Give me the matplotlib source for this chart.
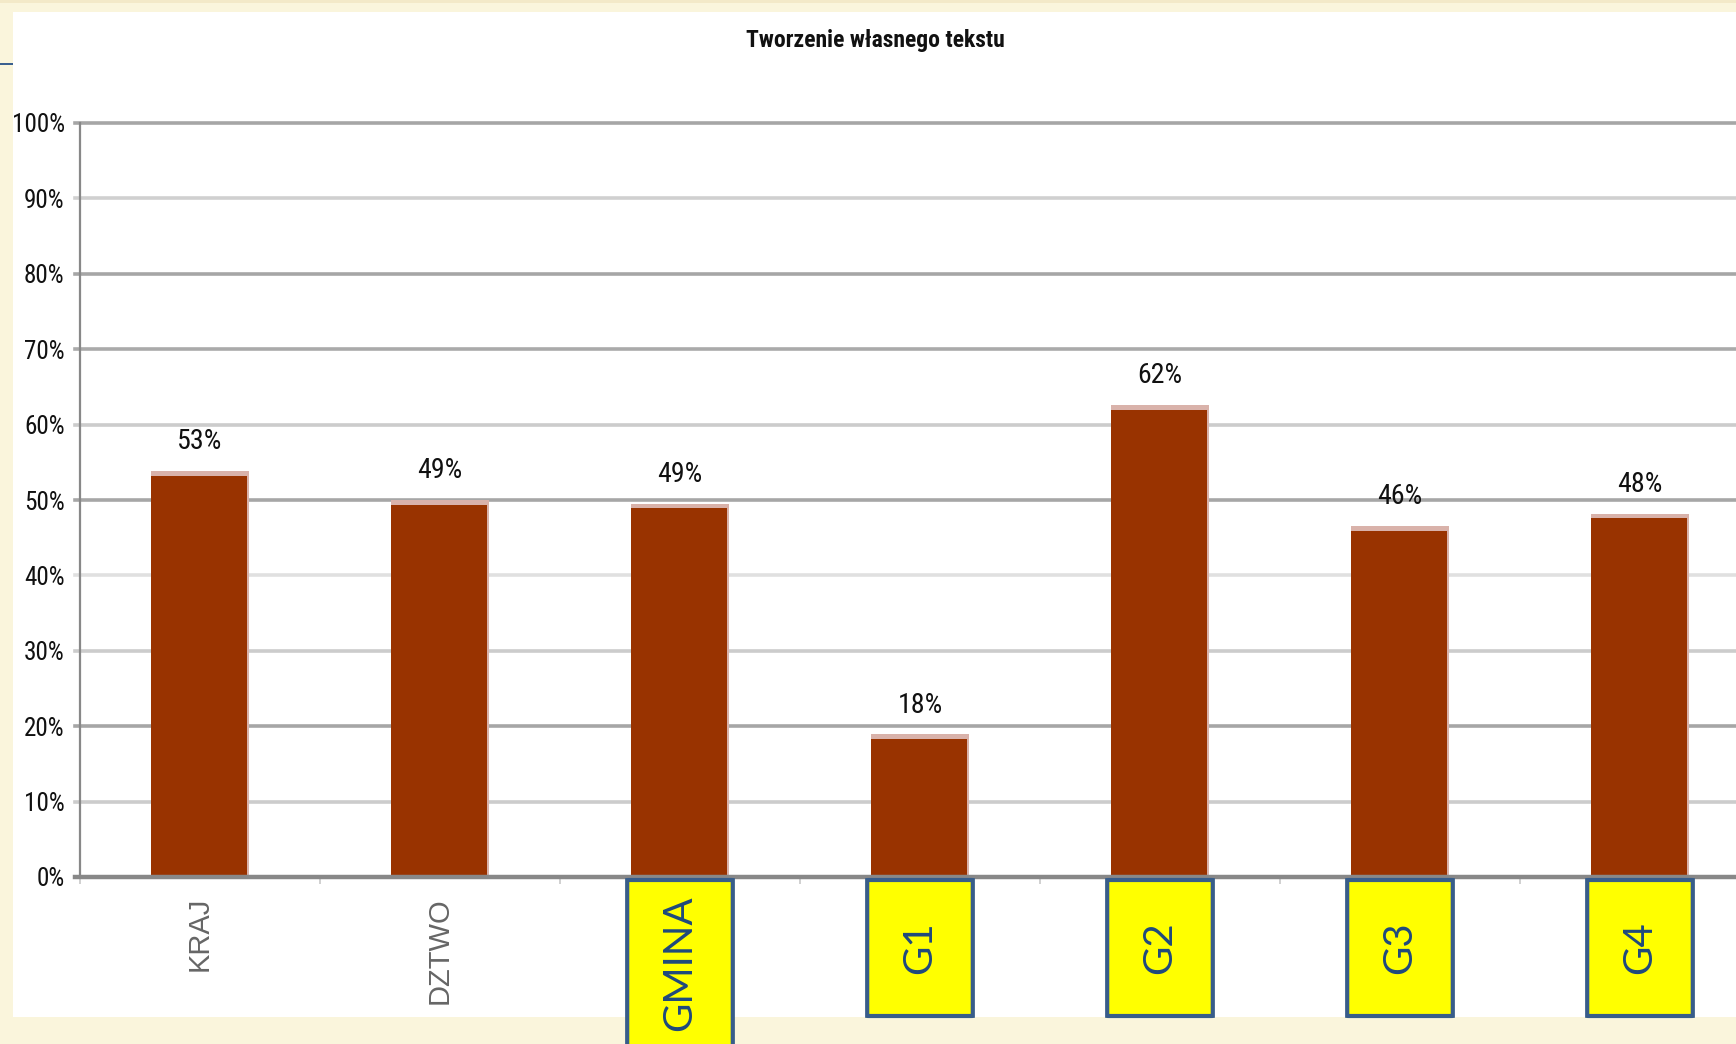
import os
import matplotlib
matplotlib.use("Agg")
import matplotlib.pyplot as plt
from matplotlib import font_manager
from matplotlib.font_manager import FontProperties
from matplotlib.textpath import TextPath
from matplotlib.patches import Rectangle, FancyBboxPatch

# ---- data ----
title = "Tworzenie własnego tekstu"
categories = ["KRAJ", "DZTWO", "GMINA", "G1", "G2", "G3", "G4"]
values = [53.2, 49.4, 48.9, 18.3, 62.0, 45.9, 47.6]
boxed = [False, False, True, True, True, True, True]
y_ticks = [0, 10, 20, 30, 40, 50, 60, 70, 80, 90, 100]
y_tick_labels = [f"{v}%" for v in y_ticks]

# ---- fonts: look for a narrow / condensed sans ----
files = [f.fname for f in font_manager.fontManager.ttflist]


def find_narrow(bold=False):
    prefixes = ["notosans-extracondensed", "liberationsansnarrow", "robotocondensed",
                "opensans_condensed", "opensanscondensed", "notosans-condensed",
                "dejavusanscondensed"]
    reg_rest = {".ttf", "-regular.ttf", "regular.ttf", ".otf", "-regular.otf", "regular.otf"}
    bold_rest = {"bold.ttf", "-bold.ttf", "bold.otf", "-bold.otf"}
    for p in prefixes:
        for fn in files:
            b = os.path.basename(fn).lower()
            if b.startswith(p):
                rest = b[len(p):]
                if (bold and rest in bold_rest) or (not bold and rest in reg_rest):
                    return FontProperties(fname=fn)
    return FontProperties(family="Liberation Sans", weight="bold" if bold else "normal")


FP_N = find_narrow(False)
FP_B = find_narrow(True)


def fit_size(s, fp, width_px, cap_px=None):
    tp = TextPath((0, 0), s, size=10, prop=fp)
    w = tp.get_extents().width * 100 / 72
    size = 10 * width_px / w
    if cap_px is not None:
        h = TextPath((0, 0), "T", size=10, prop=fp).get_extents().height * 100 / 72
        size = min(size, 10 * cap_px / h)
    return size


tick_size = fit_size("100%", FP_N, 50, 23)
val_size = fit_size("53%", FP_N, 42, 23)
title_size = fit_size(title, FP_B, 257, 23)

CREAM = "#faf5dc"
BAR = "#993300"
BAR_HI = "#d9b2aa"
BOX_EDGE = "#385d8a"
BOX_TEXT = "#1f497d"
avail = {f.name for f in font_manager.fontManager.ttflist}
BOXFONT = "Lato" if "Lato" in avail else "DejaVu Sans"

W, H = 1736, 1044
fig = plt.figure(figsize=(W / 100, H / 100), dpi=100, facecolor=CREAM)

# white chart area
fig.patches.append(Rectangle((13 / W, 1 - 1017 / H), 1, (1017 - 12) / H,
                             transform=fig.transFigure, facecolor="white",
                             edgecolor="none", zorder=-10))
fig.patches.append(Rectangle((0, 1 - 3 / H), 1, 3 / H, transform=fig.transFigure,
                             facecolor="#f3e9c8", edgecolor="none", zorder=-10))
# small blue mark on the left edge
fig.patches.append(Rectangle((0, 1 - 65 / H), 13 / W, 2.5 / H, transform=fig.transFigure,
                             facecolor="#3a6090", edgecolor="none", zorder=-9))

ax = fig.add_axes([80 / W, 1 - 877 / H, 1680 / W, (877 - 123) / H])
ax.set_zorder(5)
ax.set_facecolor("none")
n = len(categories)
ax.set_xlim(0, n)
ax.set_ylim(0, 100)

# gridlines
grid_colors = ["#888888", "#cccccc", "#a6a6a6", "#cccccc", "#e0e0e0", "#a6a6a6",
               "#cccccc", "#aaaaaa", "#a6a6a6", "#d0d0d0", "#a6a6a6"]
for yv, gc in zip(y_ticks[1:], grid_colors[1:]):
    ax.axhline(yv, xmin=-5 / 1680, xmax=1, color=gc, lw=2.6, clip_on=False, zorder=1)

# bars
xs = [i + 0.5 for i in range(n)]
bw = 0.4
ax.bar(xs, [v + 0.6 for v in values], width=bw + 0.012, align="center",
       color=BAR_HI, edgecolor="none", zorder=2)
ax.bar([x - 0.006 for x in xs], values, width=bw, color=BAR, edgecolor="none", zorder=3)

for x, v in zip(xs, values):
    ax.annotate(f"{v:.0f}%", (x, v), xytext=(0, 34), textcoords="offset pixels",
                ha="center", va="center", fontsize=val_size, fontproperties=FP_N,
                color="#111111", zorder=5)

# axes lines
for s in ["top", "right", "bottom"]:
    ax.spines[s].set_visible(False)
ax.spines["left"].set_color("#888888")
ax.spines["left"].set_linewidth(1.6)
ax.axhline(0, xmin=-5 / 1680, xmax=1, color="#888888", lw=3.2, clip_on=False, zorder=4)

ax.set_yticks(y_ticks)
ax.set_yticklabels(y_tick_labels, fontproperties=FP_N, color="#111111")
for t in ax.get_yticklabels():
    t.set_fontsize(tick_size)
ax.tick_params(axis="y", length=0, pad=11)
ax.set_xticks(range(n + 1))
ax.set_xticklabels([])
ax.tick_params(axis="x", length=5, width=1.2, color="#c8c8c8", direction="out")

# category labels
px = 754 / 100.0  # pixels per percent on y
for x, lab, b in zip(xs, categories, boxed):
    if not b:
        ax.annotate(lab, (x, 0), xytext=(0, -20), textcoords="offset pixels",
                    rotation=90, ha="center", va="top", fontsize=21,
                    family=["Liberation Sans", "DejaVu Sans"], color="#666666")
    else:
        top = -3 / px
        bottom = (-139 / px) if lab != "GMINA" else (-190 / px)
        bxw = 0.44
        box = FancyBboxPatch((x - bxw / 2, bottom), bxw, top - bottom,
                             boxstyle="round,pad=0,rounding_size=0.012",
                             facecolor="#ffff00", edgecolor=BOX_EDGE, lw=3.0,
                             clip_on=False, zorder=6)
        ax.add_patch(box)
        cy = (top + bottom) / 2 if lab != "GMINA" else -86 / px
        ax.text(x, cy, lab, rotation=90, ha="center", va="center",
                fontsize=29, family=[BOXFONT, "DejaVu Sans"], color=BOX_TEXT,
                zorder=7, clip_on=False)

fig.text(875 / W, 1 - 40 / H, title, ha="center", va="center",
         fontproperties=FP_B, fontsize=title_size, color="#111111")

fig.savefig("out.png", dpi=100, facecolor=CREAM)
